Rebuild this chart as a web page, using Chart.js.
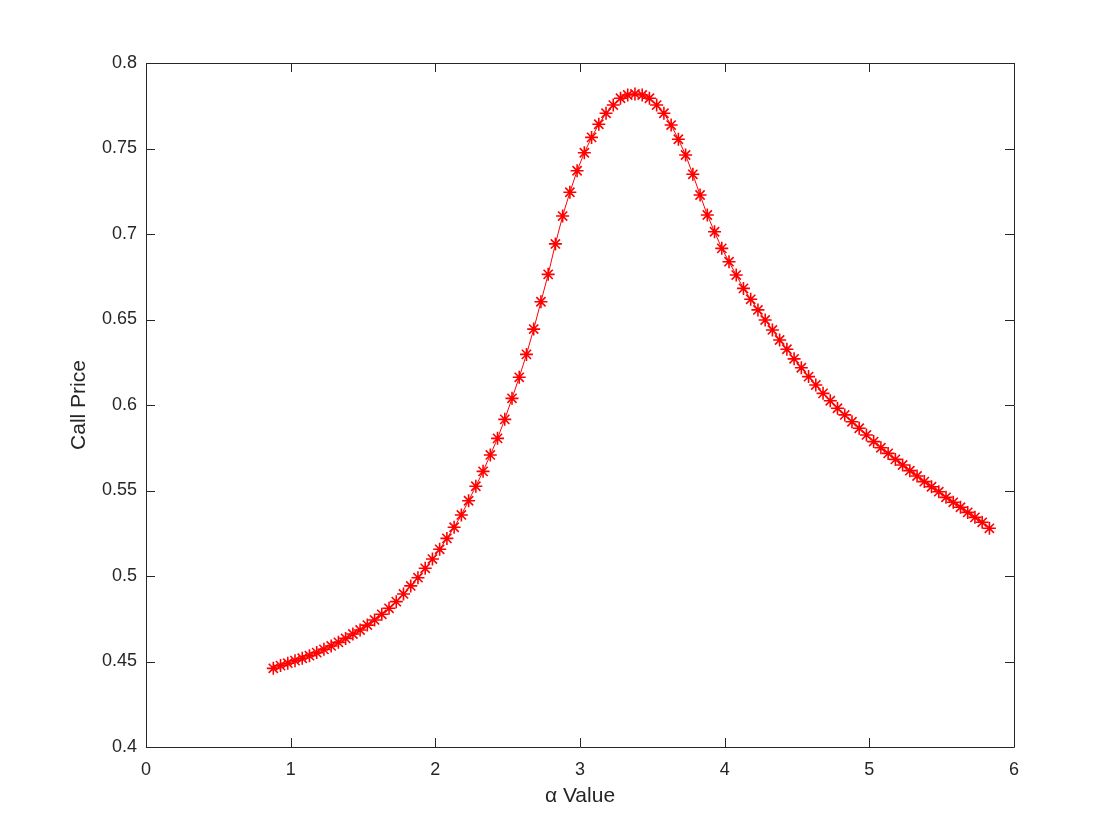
<!DOCTYPE html>
<html>
<head>
<meta charset="utf-8">
<script src="https://cdn.jsdelivr.net/npm/chart.js@4.4.1/dist/chart.umd.min.js"></script>
<style>
  html, body { margin: 0; padding: 0; background: #ffffff; }
  #wrap { width: 1120px; height: 840px; }
</style>
</head>
<body>
<div id="wrap"><canvas id="c" width="1120" height="840"></canvas></div>
<script>
const alphaValues = [
  0.88, 0.93, 0.98, 1.03, 1.08, 1.13, 1.18, 1.23, 1.28, 1.33,
  1.38, 1.43, 1.48, 1.53, 1.58, 1.63, 1.68, 1.73, 1.78, 1.83,
  1.88, 1.93, 1.98, 2.03, 2.08, 2.13, 2.18, 2.23, 2.28, 2.33,
  2.38, 2.43, 2.48, 2.53, 2.58, 2.63, 2.68, 2.73, 2.78, 2.83,
  2.88, 2.93, 2.98, 3.03, 3.08, 3.13, 3.18, 3.23, 3.28, 3.33,
  3.38, 3.43, 3.48, 3.53, 3.58, 3.63, 3.68, 3.73, 3.78, 3.83,
  3.88, 3.93, 3.98, 4.03, 4.08, 4.13, 4.18, 4.23, 4.28, 4.33,
  4.38, 4.43, 4.48, 4.53, 4.58, 4.63, 4.68, 4.73, 4.78, 4.83,
  4.88, 4.93, 4.98, 5.03, 5.08, 5.13, 5.18, 5.23, 5.28, 5.33,
  5.38, 5.43, 5.48, 5.53, 5.58, 5.63, 5.68, 5.73, 5.78, 5.83
];
const callPrices = [
  0.4460, 0.4476, 0.4490, 0.4505, 0.4519, 0.4534, 0.4552, 0.4571, 0.4591, 0.4612,
  0.4635, 0.4661, 0.4684, 0.4713, 0.4743, 0.4776, 0.4811, 0.4850, 0.4895, 0.4942,
  0.4990, 0.5045, 0.5099, 0.5156, 0.5220, 0.5285, 0.5357, 0.5440, 0.5525, 0.5612,
  0.5708, 0.5805, 0.5916, 0.6039, 0.6162, 0.6296, 0.6444, 0.6604, 0.6764, 0.6942,
  0.7105, 0.7244, 0.7370, 0.7475, 0.7565, 0.7642, 0.7706, 0.7754, 0.7794, 0.7813,
  0.7819, 0.7813, 0.7794, 0.7754, 0.7706, 0.7637, 0.7554, 0.7462, 0.7349, 0.7228,
  0.7111, 0.7013, 0.6916, 0.6838, 0.6760, 0.6682, 0.6618, 0.6556, 0.6497, 0.6439,
  0.6380, 0.6326, 0.6270, 0.6218, 0.6166, 0.6117, 0.6068, 0.6025, 0.5981, 0.5942,
  0.5902, 0.5864, 0.5825, 0.5786, 0.5750, 0.5717, 0.5682, 0.5649, 0.5616, 0.5585,
  0.5552, 0.5522, 0.5493, 0.5460, 0.5431, 0.5402, 0.5372, 0.5343, 0.5314, 0.5279
];
const xTicks = [0, 1, 2, 3, 4, 5, 6];
const xTickLabels = ['0', '1', '2', '3', '4', '5', '6'];
const yTicks = [0.4, 0.45, 0.5, 0.55, 0.6, 0.65, 0.7, 0.75, 0.8];
const yTickLabels = ['0.4', '0.45', '0.5', '0.55', '0.6', '0.65', '0.7', '0.75', '0.8'];
const xTitle = 'α Value';
const yTitle = 'Call Price';

const AXIS_COLOR = '#262626';
const TICK_LEN = 9;

const boxPlugin = {
  id: 'matlabBox',
  afterDatasetsDraw(chart) {
    const {ctx, chartArea: a, scales: {x, y}} = chart;
    ctx.save();
    ctx.strokeStyle = AXIS_COLOR;
    ctx.lineWidth = 1;
    ctx.beginPath();
    ctx.rect(Math.round(a.left) + 0.5, Math.round(a.top) + 0.5,
             Math.round(a.right - a.left), Math.round(a.bottom - a.top));
    ctx.stroke();
    ctx.beginPath();
    xTicks.forEach(v => {
      const px = Math.round(x.getPixelForValue(v)) + 0.5;
      ctx.moveTo(px, a.bottom); ctx.lineTo(px, a.bottom - TICK_LEN);
      ctx.moveTo(px, a.top); ctx.lineTo(px, a.top + TICK_LEN);
    });
    yTicks.forEach(v => {
      const py = Math.round(y.getPixelForValue(v)) + 0.5;
      ctx.moveTo(a.left, py); ctx.lineTo(a.left + TICK_LEN, py);
      ctx.moveTo(a.right, py); ctx.lineTo(a.right - TICK_LEN, py);
    });
    ctx.stroke();
    ctx.restore();
  }
};

const tickFont = { family: 'Liberation Sans, Arial, Helvetica, sans-serif', size: 18 };
const titleFont = { family: 'Liberation Sans, Arial, Helvetica, sans-serif', size: 21 };

new Chart(document.getElementById('c'), {
  type: 'line',
  data: {
    datasets: [{
      data: alphaValues.map((a, i) => ({ x: a, y: callPrices[i] })),
      borderColor: '#ff0000',
      backgroundColor: '#ff0000',
      borderWidth: 1,
      pointStyle: 'star',
      pointRadius: 6.5,
      pointBorderWidth: 1.6,
      pointBorderColor: '#ff0000',
      pointHoverRadius: 6.5,
      tension: 0,
      fill: false
    }]
  },
  options: {
    responsive: false,
    animation: false,
    events: [],
    layout: { padding: { left: 0, top: 63, right: 106, bottom: 0 } },
    plugins: { legend: { display: false }, tooltip: { enabled: false } },
    scales: {
      x: {
        type: 'linear',
        min: 0, max: 6,
        afterBuildTicks: s => { s.ticks = xTicks.map(v => ({ value: v })); },
        afterFit: s => { s.height = 93; },
        grid: { display: false, drawTicks: false },
        border: { display: false },
        ticks: {
          color: AXIS_COLOR, font: tickFont, padding: 12, maxRotation: 0,
          callback: (v, i) => xTickLabels[i]
        },
        title: { display: true, text: xTitle, color: AXIS_COLOR, font: titleFont, padding: { top: 0, bottom: 31 } }
      },
      y: {
        type: 'linear',
        min: 0.4, max: 0.8,
        afterBuildTicks: s => { s.ticks = yTicks.map(v => ({ value: v })); },
        afterFit: s => { s.width = 146; },
        grid: { display: false, drawTicks: false },
        border: { display: false },
        ticks: {
          color: AXIS_COLOR, font: tickFont, padding: 9,
          callback: (v, i) => yTickLabels[i]
        },
        title: { display: true, text: yTitle, color: AXIS_COLOR, font: titleFont, padding: { top: 67, bottom: 0 } }
      }
    }
  },
  plugins: [boxPlugin]
});
</script>
</body>
</html>
